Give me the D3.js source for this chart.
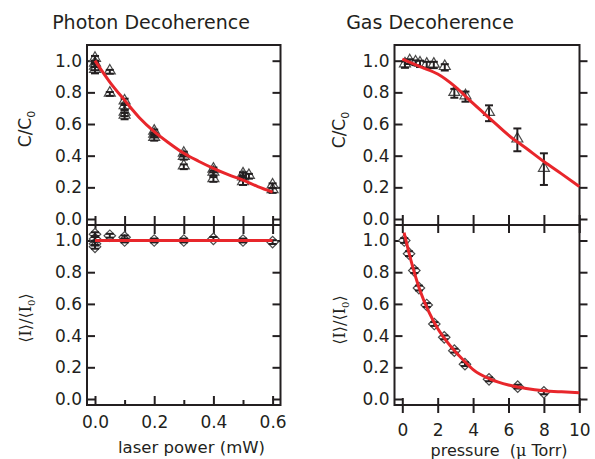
<!DOCTYPE html>
<html>
<head>
<meta charset="utf-8">
<script src="https://cdn.jsdelivr.net/npm/d3@7"></script>
<style>
  body { margin: 0; background: #fff; }
  text { font-family: "DejaVu Sans", sans-serif; fill: #231f20; }
</style>
</head>
<body>
<svg id="chart" width="595" height="459"></svg>
<script>
// ---- data ----
// photon decoherence, contrast
const photonCx   = [0, 0, 0, 0, 0.05, 0.05, 0.1, 0.1, 0.1, 0.1, 0.2, 0.2, 0.2, 0.3, 0.3, 0.3, 0.4, 0.4, 0.4, 0.5, 0.5, 0.5, 0.52, 0.6, 0.6];
const photonC    = [1.01, 0.98, 0.96, 0.94, 0.93, 0.79, 0.74, 0.71, 0.67, 0.65, 0.55, 0.53, 0.51, 0.41, 0.39, 0.33, 0.31, 0.29, 0.25, 0.28, 0.26, 0.23, 0.27, 0.21, 0.18];
const photonCErr = [0.02, 0.02, 0.02, 0.02, 0.012, 0.012, 0.02, 0.02, 0.02, 0.02, 0.015, 0.015, 0.015, 0.015, 0.015, 0.015, 0.015, 0.015, 0.015, 0.015, 0.015, 0.015, 0.015, 0.015, 0.015];
// photon decoherence, intensity
const photonIx   = [0, 0, 0, 0, 0.05, 0.1, 0.1, 0.2, 0.3, 0.4, 0.5, 0.6];
const photonI    = [1.04, 1.01, 0.98, 0.96, 1.03, 1.02, 1.0, 1.0, 1.0, 1.01, 1.0, 0.99];
const photonIErr = [0.012, 0.012, 0.012, 0.012, 0.012, 0.012, 0.012, 0.012, 0.012, 0.012, 0.012, 0.012];
// photon fits
const photonFitX = [0, 0.05, 0.1, 0.15, 0.2, 0.25, 0.3, 0.35, 0.4, 0.45, 0.5, 0.55, 0.6];
const photonFitC = [1.0, 0.865, 0.75, 0.64, 0.552, 0.48, 0.415, 0.365, 0.32, 0.28, 0.245, 0.205, 0.17];
const photonFitI = [1, 1, 1, 1, 1, 1, 1, 1, 1, 1, 1, 1, 1];

// gas decoherence
const gasP    = [0.15, 0.42, 0.75, 1.0, 1.38, 1.78, 2.4, 2.94, 3.57, 4.9, 6.5, 8.0];
const gasC    = [0.975, 0.994, 0.987, 0.98, 0.973, 0.973, 0.958, 0.794, 0.773, 0.668, 0.50, 0.315];
const gasCErr = [0.02, 0.015, 0.015, 0.02, 0.02, 0.02, 0.02, 0.028, 0.032, 0.05, 0.072, 0.1];
const gasIP   = [0.11, 0.38, 0.68, 0.94, 1.38, 1.81, 2.37, 2.94, 3.54, 4.9, 6.52, 8.0];
const gasI    = [1.0, 0.917, 0.81, 0.70, 0.593, 0.473, 0.389, 0.305, 0.22, 0.124, 0.078, 0.042];
const gasIErr = [0.015, 0.015, 0.015, 0.015, 0.012, 0.012, 0.012, 0.012, 0.012, 0.012, 0.012, 0.012];
const gasFitCP = [0, 1, 2, 3, 4, 5, 6, 7, 8, 9, 10];
const gasFitC  = [1.01, 0.962, 0.916, 0.835, 0.73, 0.63, 0.53, 0.447, 0.363, 0.285, 0.205];
const gasFitIP = [0.1, 0.5, 1, 1.5, 2, 2.5, 3, 3.5, 4, 5, 6, 7, 8, 9, 10];
const gasFitI  = [1.05, 0.87, 0.685, 0.55, 0.445, 0.365, 0.298, 0.24, 0.185, 0.124, 0.088, 0.066, 0.052, 0.045, 0.04];

// ticks
const yTickVals = [0, 0.2, 0.4, 0.6, 0.8, 1.0];
const powerMajor = [0, 0.2, 0.4, 0.6];
const powerMinor = [0.1, 0.3, 0.5];
const powerAll = [0, 0.1, 0.2, 0.3, 0.4, 0.5, 0.6];
const pressureTicks = [0, 2, 4, 6, 8, 10];

const ink = "#231f20";
const red = "#e8262b";

const svg = d3.select("#chart");

const xL = d3.scaleLinear().domain([0, 0.6]).range([95, 272.6]);
const xR = d3.scaleLinear().domain([0, 10]).range([402.3, 579.3]);
const yC = d3.scaleLinear().domain([0, 1]).range([219, 60.7]);
const yI = d3.scaleLinear().domain([0, 1]).range([399, 240.5]);

function axis(tr, ax, fs) {
  const g = svg.append("g").attr("transform", tr).call(ax);
  g.select(".domain").remove();
  g.selectAll(".tick line").attr("stroke", ink).attr("stroke-width", 2);
  g.attr("font-size", fs || 17);
  return g;
}

const f1 = d3.format(".1f");

// ---- left panels ----
axis("translate(87,0)", d3.axisLeft(yC).tickValues(yTickVals).tickFormat(f1).tickSizeInner(-8).tickSizeOuter(0).tickPadding(5));
axis("translate(280.5,0)", d3.axisRight(yC).tickValues(yTickVals).tickFormat("").tickSizeInner(-8).tickSizeOuter(0));
axis("translate(0,225)", d3.axisBottom(xL).tickValues(powerAll).tickFormat("").tickSizeInner(-9).tickSizeOuter(0));
axis("translate(0,225)", d3.axisTop(xL).tickValues(powerAll).tickFormat("").tickSizeInner(-9).tickSizeOuter(0));
axis("translate(87,0)", d3.axisLeft(yI).tickValues(yTickVals).tickFormat(f1).tickSizeInner(-8).tickSizeOuter(0).tickPadding(5));
axis("translate(280.5,0)", d3.axisRight(yI).tickValues(yTickVals).tickFormat("").tickSizeInner(-8).tickSizeOuter(0));
axis("translate(0,405)", d3.axisBottom(xL).tickValues(powerMajor).tickFormat(f1).tickSizeInner(-9).tickSizeOuter(0).tickPadding(11));
axis("translate(0,405)", d3.axisBottom(xL).tickValues(powerMinor).tickFormat("").tickSizeInner(-5).tickSizeOuter(0));

// ---- right panels ----
axis("translate(394.5,0)", d3.axisLeft(yC).tickValues(yTickVals).tickFormat(f1).tickSizeInner(-8).tickSizeOuter(0).tickPadding(5));
axis("translate(579.5,0)", d3.axisRight(yC).tickValues(yTickVals).tickFormat("").tickSizeInner(8).tickSizeOuter(0));
axis("translate(0,225)", d3.axisBottom(xR).tickValues(pressureTicks).tickFormat("").tickSizeInner(-10).tickSizeOuter(0));
axis("translate(0,225)", d3.axisTop(xR).tickValues(pressureTicks).tickFormat("").tickSizeInner(-8).tickSizeOuter(0));
axis("translate(394.5,0)", d3.axisLeft(yI).tickValues(yTickVals).tickFormat(f1).tickSizeInner(-8).tickSizeOuter(0).tickPadding(5));
axis("translate(579.5,0)", d3.axisRight(yI).tickValues(yTickVals).tickFormat("").tickSizeInner(8).tickSizeOuter(0));
axis("translate(0,405)", d3.axisBottom(xR).tickValues(pressureTicks).tickFormat(d3.format("d")).tickSizeInner(8).tickSizeOuter(0).tickPadding(11));
axis("translate(0,405)", d3.axisBottom(xR).tickValues(pressureTicks).tickFormat("").tickSizeInner(-7).tickSizeOuter(0));

// frames
[[87, 280.5], [394.5, 579.5]].forEach(([a, b]) => {
  svg.append("rect")
    .attr("x", a).attr("y", 45).attr("width", b - a).attr("height", 360)
    .attr("fill", "none").attr("stroke", ink).attr("stroke-width", 2);
  svg.append("line")
    .attr("x1", a).attr("x2", b).attr("y1", 225).attr("y2", 225)
    .attr("stroke", ink).attr("stroke-width", 2);
});

// ---- marks ----
const tri = d3.symbol().type(d3.symbolTriangle).size(52);
const dia = d3.symbol().type(d3.symbolSquare).size(66);

function points(xs, ys, errs, x, y, shape) {
  const data = xs.map((d, i) => ({ x: d, y: ys[i], e: errs[i] }));
  const g = svg.append("g");
  g.selectAll("path")
    .data(data)
    .join("path")
      .attr("d", shape === "tri" ? tri : dia)
      .attr("transform", d => `translate(${x(d.x)},${y(d.y)})` + (shape === "tri" ? " translate(0,-1)" : " rotate(45)"))
      .attr("fill", "#fff")
      .attr("stroke", "#4a4a4a")
      .attr("stroke-width", 1.2);
  const eb = g.selectAll("g.eb")
    .data(data)
    .join("g")
      .attr("class", "eb")
      .attr("stroke", ink)
      .attr("stroke-width", 2);
  eb.append("line")
    .attr("x1", d => x(d.x)).attr("x2", d => x(d.x))
    .attr("y1", d => y(d.y - d.e)).attr("y2", d => y(d.y + d.e));
  eb.append("line")
    .attr("x1", d => x(d.x) - 4).attr("x2", d => x(d.x) + 4)
    .attr("y1", d => y(d.y - d.e)).attr("y2", d => y(d.y - d.e));
  eb.append("line")
    .attr("x1", d => x(d.x) - 4).attr("x2", d => x(d.x) + 4)
    .attr("y1", d => y(d.y + d.e)).attr("y2", d => y(d.y + d.e));
}

function fit(xs, ys, x, y) {
  const line = d3.line().x(d => x(d[0])).y(d => y(d[1])).curve(d3.curveMonotoneX);
  svg.append("path")
    .attr("d", line(xs.map((d, i) => [d, ys[i]])))
    .attr("fill", "none")
    .attr("stroke", red)
    .attr("stroke-width", 3);
}

points(photonCx, photonC, photonCErr, xL, yC, "tri");
fit(photonFitX, photonFitC, xL, yC);
points(photonIx, photonI, photonIErr, xL, yI, "dia");
fit(photonFitX, photonFitI, xL, yI);

points(gasP, gasC, gasCErr, xR, yC, "tri");
fit(gasFitCP, gasFitC, xR, yC);
points(gasIP, gasI, gasIErr, xR, yI, "dia");
fit(gasFitIP, gasFitI, xR, yI);

// ---- text ----
svg.append("text").attr("x", 151).attr("y", 29).attr("text-anchor", "middle")
  .attr("font-size", 19).text("Photon Decoherence");
svg.append("text").attr("x", 430).attr("y", 29).attr("text-anchor", "middle")
  .attr("font-size", 19).text("Gas Decoherence");

[[31, 129], [345, 130]].forEach(([x, y]) => {
  const t = svg.append("text").attr("transform", `translate(${x},${y}) rotate(-90)`)
    .attr("text-anchor", "middle").attr("font-size", 17);
  t.append("tspan").text("C/C");
  t.append("tspan").attr("font-size", 11).attr("dy", 4).text("0");
});

[[31, 318], [345, 320]].forEach(([x, y]) => {
  const t = svg.append("text").attr("transform", `translate(${x},${y}) rotate(-90)`)
    .attr("text-anchor", "middle").attr("font-size", 16)
    .style("font-family", "'DejaVu Serif', serif");
  t.append("tspan").text("\u27E8I\u27E9/\u27E8I");
  t.append("tspan").attr("font-size", 10).attr("dy", 4).text("0");
  t.append("tspan").attr("dy", -4).text("\u27E9");
});

svg.append("text").attr("x", 191.5).attr("y", 453).attr("text-anchor", "middle")
  .attr("font-size", 16.5).text("laser power (mW)");
const px = svg.append("text").attr("x", 499).attr("y", 456).attr("text-anchor", "middle")
  .attr("font-size", 16).style("white-space", "pre");
px.append("tspan").text("pressure  (");
px.append("tspan").style("font-family", "'DejaVu Serif', serif").text("\u03BC");
px.append("tspan").text(" Torr)");
</script>
</body>
</html>
